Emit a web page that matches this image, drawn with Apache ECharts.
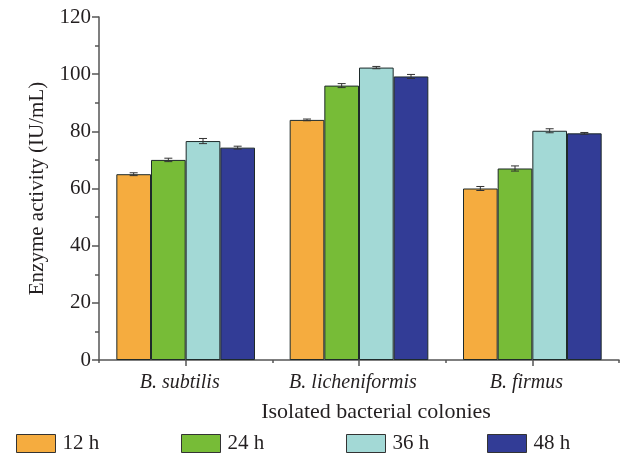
<!DOCTYPE html>
<html><head><meta charset="utf-8">
<script src="https://cdn.jsdelivr.net/npm/echarts@6/dist/echarts.min.js"></script>
<style>html,body{margin:0;padding:0;background:#fff}#c{width:624px;height:460px}</style>
</head><body><div id="c"></div>
<script>
const categories = ['B. subtilis', 'B. licheniformis', 'B. firmus'];
const seriesNames = ['12 h', '24 h', '36 h', '48 h'];
const v12 = [65, 84, 60];
const v24 = [70, 96, 67];
const v36 = [76.6, 102.3, 80.2];
const v48 = [74.3, 99.2, 79.3];
const e12 = [0.5, 0.3, 0.7];
const e24 = [0.6, 0.7, 0.9];
const e36 = [0.9, 0.4, 0.7];
const e48 = [0.5, 0.7, 0.3];
const yTicks = [0, 20, 40, 60, 80, 100, 120];
const colors = ['#F5AC3F', '#77BC37', '#A3D9D6', '#323C96'];

const values = [v12, v24, v36, v48];
const errors = [e12, e24, e36, e48];
const font = 'Liberation Serif';
const txt = '#231F20';

const series = [];
values.forEach((vals, i) => {
  series.push({
    name: seriesNames[i], type: 'bar', data: vals,
    barGap: '0%', barCategoryGap: '20%',
    itemStyle: { color: colors[i], borderColor: '#1e2a2a', borderWidth: 1 },
    silent: true
  });
});
values.forEach((vals, i) => {
  series.push({
    type: 'custom', silent: true, z: 5,
    data: vals.map((v, k) => [k, v, errors[i][k]]),
    renderItem: function (params, api) {
      const k = api.value(0), v = api.value(1), e = api.value(2);
      const band = api.size([1, 0])[0];
      const bw = band * 0.8 / 4;
      const cx = api.coord([k, v])[0] + (i - 1.5) * bw;
      const yt = api.coord([k, v + e])[1];
      const yb = api.coord([k, v - e])[1];
      const cap = 4;
      const st = { stroke: '#333', lineWidth: 1 };
      return { type: 'group', children: [
        { type: 'line', shape: { x1: cx, y1: yt, x2: cx, y2: yb }, style: st },
        { type: 'line', shape: { x1: cx - cap, y1: yt, x2: cx + cap, y2: yt }, style: st },
        { type: 'line', shape: { x1: cx - cap, y1: yb, x2: cx + cap, y2: yb }, style: st }
      ]};
    }
  });
});

const legendLefts = [16, 181, 346, 487];
const legends = seriesNames.map((n, i) => ({
  data: [n], left: legendLefts[i], top: 433, itemWidth: 39, itemHeight: 18,
  icon: 'rect', selectedMode: false, padding: 0, itemGap: 0,
  itemStyle: { borderColor: '#333', borderWidth: 1 },
  textStyle: { fontFamily: font, fontSize: 21, color: txt, padding: [0, 0, 0, 2] }
}));

const chart = echarts.init(document.getElementById('c'), null, { renderer: 'canvas' });
chart.setOption({
  animation: false,
  color: colors,
  legend: legends,
  grid: { left: 99, right: 5, top: 17, bottom: 100, containLabel: false },
  xAxis: [{
    type: 'category', data: categories, position: 'bottom',
    name: 'Isolated bacterial colonies', nameLocation: 'middle', nameGap: 41,
    nameTextStyle: { fontFamily: font, fontSize: 22, color: txt, padding: [0, 0, 0, 34] },
    axisLine: { lineStyle: { color: '#555', width: 1.5 } },
    axisTick: { show: true, length: 3, lineStyle: { color: '#555', width: 1.5 } },
    axisLabel: { fontFamily: font, fontSize: 20, fontStyle: 'italic', color: txt, margin: 13,
      padding: [0, 12, 0, 0] }
  }, {
    type: 'category', data: categories, position: 'bottom', gridIndex: 0,
    axisLine: { show: false }, axisLabel: { show: false },
    axisTick: { show: true, alignWithLabel: true, length: 6, lineStyle: { color: '#555', width: 1.5 } }
  }],
  yAxis: {
    type: 'value', min: 0, max: 120, interval: 20,
    name: 'Enzyme activity (IU/mL)', nameLocation: 'middle', nameGap: 51,
    nameTextStyle: { fontFamily: font, fontSize: 21, color: txt },
    axisLine: { show: true, lineStyle: { color: '#555', width: 1.5 } },
    axisTick: { show: true, length: 7, lineStyle: { color: '#555', width: 1.5 } },
    minorTick: { show: true, splitNumber: 2, length: 4, lineStyle: { color: '#555', width: 1.5 } },
    splitLine: { show: false },
    axisLabel: { fontFamily: font, fontSize: 21, color: txt, margin: 8,
      formatter: v => yTicks.includes(v) ? String(v) : '' }
  },
  series: series
});
</script></body></html>
